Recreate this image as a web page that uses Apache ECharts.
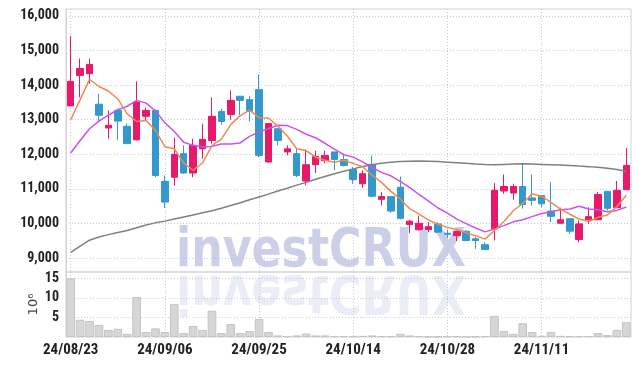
<!DOCTYPE html>
<html><head><meta charset="utf-8">
<script src="https://cdn.jsdelivr.net/npm/echarts@6/dist/echarts.min.js"></script>
<style>html,body{margin:0;padding:0;background:#fff}#c{width:639px;height:366px}</style>
</head><body><div id="c"></div>
<script>
const dates = ['24/08/23','24/08/26','24/08/27','24/08/28','24/08/29','24/08/30','24/09/02','24/09/03','24/09/04','24/09/05','24/09/06','24/09/09','24/09/10','24/09/11','24/09/12','24/09/13','24/09/19','24/09/20','24/09/23','24/09/24','24/09/25','24/09/26','24/09/27','24/09/30','24/10/02','24/10/04','24/10/07','24/10/08','24/10/10','24/10/11','24/10/14','24/10/15','24/10/16','24/10/17','24/10/18','24/10/21','24/10/22','24/10/23','24/10/24','24/10/25','24/10/28','24/10/29','24/10/30','24/10/31','24/11/01','24/11/04','24/11/05','24/11/06','24/11/07','24/11/08','24/11/11','24/11/12','24/11/13','24/11/14','24/11/15','24/11/18','24/11/19','24/11/20','24/11/21','24/11/22'];
const opens  = [13400,14280,14330,13450,12760,13270,12810,12420,13100,13270,11220,11340,12020,11460,12160,12400,13240,13150,13680,13580,13870,11780,12740,12070,12020,11230,11700,11820,12070,11850,11560,11150,11710,10700,10780,11050,9970,9820,9830,9990,9720,9650,9780,9560,9390,9850,10940,10880,11070,10740,10810,10360,10010,10140,9540,10110,10110,10930,10460,10980];
const closes = [14110,14480,14600,13130,12840,12960,12310,13510,13270,11390,10620,12000,11460,12260,12430,13100,12950,13560,13560,13250,11970,12890,12400,12160,11390,11700,11940,11970,11850,11680,11270,11440,10790,10780,10360,10150,10070,10010,9910,9750,9690,9770,9510,9510,9250,10960,11070,11070,10550,10670,10570,10210,10110,9780,9990,10200,10840,10440,10960,11680];
const lows   = [13400,13650,14040,12930,12450,12420,12300,12400,12980,11340,10450,11100,11440,11340,11870,12310,12860,13000,13130,12950,11920,11750,12260,11970,11340,11100,11460,11740,11540,11650,11150,11030,10750,10520,10310,10120,9720,9800,9750,9740,9590,9490,9490,9270,9250,9510,10860,10690,10430,10520,10470,10040,10000,9700,9460,9990,10100,10380,10450,10960];
const highs  = [15410,14770,14770,13750,13270,13320,12890,14110,13350,13290,11390,12480,12260,12450,12890,13640,13320,13850,13680,13680,14300,12900,12760,12260,12160,12110,12110,12110,12070,12020,11640,11540,11970,10910,10790,11360,10110,10230,10040,10040,9820,9800,9800,9620,9460,11170,11420,11150,11730,11420,10820,11200,10460,10150,10090,10470,10910,10930,11230,12190];
const ma5  = [13000,13580,14170,13960,13830,13600,13170,12950,12980,12690,12220,12160,11750,11540,11750,12250,12440,12860,13120,13280,13060,13050,12810,12530,12160,12110,11920,11830,11770,11830,11740,11640,11400,11190,10930,10710,10430,10270,10100,9980,9890,9830,9730,9650,9550,9800,10060,10370,10580,10860,10790,10610,10420,10270,10130,10060,10180,10250,10490,10820];
const ma10 = [12040,12400,12740,12960,13130,13290,13390,13560,13480,13260,12910,12660,12350,12260,12220,12230,12300,12300,12330,12520,12650,12740,12840,12830,12720,12580,12480,12320,12150,11990,11920,11780,11620,11480,11380,11220,11040,10840,10650,10450,10300,10130,10000,9870,9760,9840,9940,10050,10110,10200,10290,10340,10400,10420,10500,10420,10400,10340,10380,10480];
const ma60 = [9170,9350,9520,9610,9680,9740,9800,9880,9960,10020,10070,10130,10190,10250,10310,10370,10440,10520,10600,10690,10770,10850,10940,11020,11110,11190,11280,11360,11440,11510,11580,11650,11700,11745,11770,11790,11800,11805,11800,11790,11775,11760,11740,11720,11705,11700,11710,11720,11725,11720,11710,11700,11690,11680,11660,11645,11625,11600,11560,11510];
const volumes = [15.0,4.4,4.1,3.1,1.8,2.1,0.8,10.2,1.3,2.2,1.3,8.4,1.0,2.8,1.8,6.7,1.0,3.3,1.0,1.5,4.6,1.3,0.4,0.2,0.4,0.9,0.4,0.4,0.2,0.2,0.2,0.3,0.4,0.2,0.2,0.8,0.4,0.2,0.1,0.1,0.2,0.2,0.1,0.1,0.2,5.4,1.5,0.8,3.5,1.3,0.3,1.3,0.3,0.2,0.2,0.2,1.0,0.5,1.8,3.8];
const priceTicks = [9000,10000,11000,12000,13000,14000,15000,16000];
const volumeTicks = [5,10,15];

// choose a condensed font if one is installed, otherwise a regular-width one at smaller size
function hasFont(name) {
  const ctx = document.createElement('canvas').getContext('2d');
  const s = '0123456789/,abcdefghijklmXYZ';
  ctx.font = 'bold 30px monospace';
  const a = ctx.measureText(s).width;
  ctx.font = 'bold 30px "' + name + '", monospace';
  const b = ctx.measureText(s).width;
  return Math.abs(a - b) > 0.5;
}
let labelFont = '"Liberation Sans", Arial, sans-serif', ySize = 12, xSize = 13;
for (const f of ['Liberation Sans Narrow', 'Roboto Condensed', 'Open Sans Condensed', 'Noto Sans Condensed', 'Arial Narrow']) {
  if (hasFont(f)) { labelFont = '"' + f + '", sans-serif'; ySize = 14; xSize = 15; break; }
}

const candles = opens.map((o, i) => [o, closes[i], lows[i], highs[i]]);
const gridLine = {show: true, lineStyle: {color: '#c4c8da', width: 1, type: [1, 2]}};
const wmStyle = {text: 'investCRUX', fontSize: 54, fontWeight: 'bold', fontFamily: '"DejaVu Sans"', fill: '#cbd0e8', verticalAlign: 'middle'};
const chart = echarts.init(document.getElementById('c'), null, {renderer: 'canvas'});
chart.setOption({
  animation: false,
  backgroundColor: '#fff',
  grid: [
    {left: 66, right: 8, top: 9, height: 263, show: true, borderColor: '#d3d3d3', borderWidth: 1},
    {left: 66, right: 8, top: 272, height: 65, show: true, borderColor: '#d3d3d3', borderWidth: 1}
  ],
  graphic: [
    {type: 'text', x: 176, y: 252, scaleX: 0.82, z: 0, silent: true, style: Object.assign({}, wmStyle)},
    {type: 'group', x: 176, y: 271, scaleY: -1, scaleX: 0.82, z: 0, silent: true, children: [
      {type: 'text', x: 0, y: -19, style: Object.assign({opacity: 0.4}, wmStyle)}
    ]}
  ],
  xAxis: [
    {type: 'category', gridIndex: 0, data: dates, boundaryGap: true,
     axisLine: {show: false}, axisTick: {show: false}, axisLabel: {show: false},
     splitLine: Object.assign({interval: 9, alignWithLabel: true}, gridLine)},
    {type: 'category', gridIndex: 1, data: dates, boundaryGap: true,
     axisLine: {show: false}, axisTick: {show: false},
     axisLabel: {show: true, interval: 9, margin: 6, color: '#222', fontSize: xSize, fontWeight: 'bold', fontFamily: labelFont},
     splitLine: Object.assign({interval: 9, alignWithLabel: true}, gridLine)}
  ],
  yAxis: [
    {type: 'value', gridIndex: 0, min: 8600, max: 16200, scale: true,
     axisLine: {show: true, lineStyle: {color: '#d3d3d3'}},
     axisTick: {show: false, customValues: priceTicks},
     axisLabel: {customValues: priceTicks, margin: 7, color: '#222', fontSize: ySize, fontWeight: 'bold', fontFamily: labelFont,
       formatter: v => v.toLocaleString('en-US')},
     splitLine: gridLine},
    {type: 'value', gridIndex: 1, min: 0, max: 16.6,
     axisLine: {show: true, lineStyle: {color: '#d3d3d3'}},
     axisTick: {show: false, customValues: volumeTicks},
     axisLabel: {customValues: volumeTicks, margin: 7, color: '#222', fontSize: ySize, fontWeight: 'bold', fontFamily: labelFont},
     splitLine: gridLine,
     name: '10⁶', nameLocation: 'middle', nameRotate: 90, nameGap: 26, nameMoveOverlap: false,
     nameTextStyle: {color: '#444', fontSize: 13, fontFamily: '"DejaVu Sans", sans-serif'}}
  ],
  series: [
    {type: 'bar', xAxisIndex: 1, yAxisIndex: 1, data: volumes, barCategoryGap: '8%',
     itemStyle: {color: '#d6d6d6', borderColor: '#c4c4c4', borderWidth: 1}, z: 2},
    {type: 'candlestick', xAxisIndex: 0, yAxisIndex: 0, data: candles, barWidth: 7,
     itemStyle: {color: '#e6196b', color0: '#3399cc', borderColor: '#e6196b', borderColor0: '#3399cc', borderWidth: 1}, z: 3},
    {type: 'line', xAxisIndex: 0, yAxisIndex: 0, data: ma60, symbol: 'none', lineStyle: {color: '#808080', width: 1.5}, z: 4},
    {type: 'line', xAxisIndex: 0, yAxisIndex: 0, data: ma10, symbol: 'none', lineStyle: {color: '#c852ee', width: 1.5}, z: 4},
    {type: 'line', xAxisIndex: 0, yAxisIndex: 0, data: ma5, symbol: 'none', lineStyle: {color: '#ef8a4c', width: 1.5}, z: 4}
  ]
});
</script></body></html>
